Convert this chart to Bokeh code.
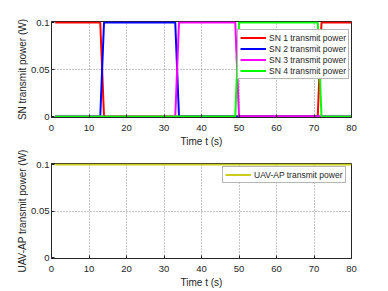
from bokeh.plotting import figure
from bokeh.layouts import column
from bokeh.models import Legend, LegendItem, FixedTicker, Range1d
from bokeh.embed import file_html
from bokeh.resources import INLINE

# ---- data (step schedules) ----
sn1_t = [1, 13, 14, 71, 72, 80]
sn1_p = [0.1, 0.1, 0.0, 0.0, 0.1, 0.1]
sn2_t = [1, 13, 14, 33, 34, 80]
sn2_p = [0.0, 0.0, 0.1, 0.1, 0.0, 0.0]
sn3_t = [1, 33, 34, 49, 50, 80]
sn3_p = [0.0, 0.0, 0.1, 0.1, 0.0, 0.0]
sn4_t = [1, 49, 50, 71, 72, 80]
sn4_p = [0.0, 0.0, 0.1, 0.1, 0.0, 0.0]
uav_t = [1, 80]
uav_p = [0.1, 0.1]

series_names = ["SN 1 transmit power", "SN 2 transmit power",
                "SN 3 transmit power", "SN 4 transmit power"]
series_colors = ["#ff0000", "#0000ff", "#ff00ff", "#00ff00"]
uav_name = "UAV-AP transmit power"
uav_color = "#cccc1a"

x_ticks = [0, 10, 20, 30, 40, 50, 60, 70, 80]
y_ticks = [0, 0.05, 0.1]
y_tick_labels = {0: "0", 0.05: "0.05", 0.1: "0.1"}

FONT = "Liberation Sans"
AX = "#262626"


def make_fig(fh, top, bottom, ylabel):
    pad = 0.1 / (fh - 2)  # one pixel so that lines on the limits are not clipped
    p = figure(frame_width=300, frame_height=fh, output_backend="svg", toolbar_location=None,
               x_range=Range1d(0, 80), y_range=Range1d(-pad, 0.1 + pad),
               min_border_left=51, min_border_right=37, min_border_top=top,
               min_border_bottom=bottom)
    p.xaxis.ticker = FixedTicker(ticks=x_ticks)
    p.yaxis.ticker = FixedTicker(ticks=y_ticks)
    p.yaxis.major_label_overrides = y_tick_labels
    for ax in (p.xaxis[0], p.yaxis[0]):
        ax.major_tick_in = 3
        ax.major_tick_out = 0
        ax.minor_tick_in = 0
        ax.minor_tick_out = 0
        ax.axis_line_color = AX
        ax.major_tick_line_color = AX
        ax.major_label_text_font = FONT
        ax.major_label_text_font_size = "9.5px"
        ax.major_label_text_color = AX
        ax.axis_label_text_font = FONT
        ax.axis_label_text_font_size = "10px"
        ax.axis_label_text_font_style = "normal"
        ax.axis_label_text_color = AX
    p.xaxis.major_label_standoff = 7
    p.xaxis.axis_label_standoff = 2
    p.yaxis.major_label_standoff = 2
    p.yaxis.axis_label_standoff = 0
    p.xaxis.axis_label = "Time t (s)"
    p.yaxis.axis_label = ylabel
    p.xgrid.ticker = FixedTicker(ticks=x_ticks[1:-1])
    p.ygrid.ticker = FixedTicker(ticks=[0.05])
    for g in (p.xgrid[0], p.ygrid[0]):
        g.grid_line_color = "#8a8a8a"
        g.grid_line_dash = "1 2"
        g.grid_line_width = 1
    p.outline_line_color = AX
    p.outline_line_width = 1
    p.background_fill_color = "white"
    p.border_fill_color = "white"
    return p


p1 = make_fig(96, 21, 28, "SN transmit power (W)")
items = []
for t, v, nm, c in zip([sn1_t, sn2_t, sn3_t, sn4_t], [sn1_p, sn2_p, sn3_p, sn4_p],
                       series_names, series_colors):
    r = p1.line(t, v, line_color=c, line_width=2)
    items.append(LegendItem(label=nm, renderers=[r]))
leg1 = Legend(items=items, location=(186, 38), label_text_font=FONT,
              label_text_font_size="8.5px", label_text_color=AX,
              label_height=11, glyph_height=11, glyph_width=26, label_standoff=3,
              spacing=0, padding=2, margin=0, border_line_color="#6e6e6e",
              background_fill_alpha=1)
p1.add_layout(leg1, "center")

p2 = make_fig(95, 14, 37, "UAV-AP transmit power (W)")
r2 = p2.line(uav_t, uav_p, line_color=uav_color, line_width=2)
leg2 = Legend(items=[LegendItem(label=uav_name, renderers=[r2])], location=(171, 75),
              label_text_font=FONT, label_text_font_size="8.5px", label_text_color=AX,
              label_height=11, glyph_height=11, glyph_width=26, label_standoff=3,
              spacing=0, padding=2, margin=0, border_line_color="#6e6e6e",
              background_fill_alpha=1)
p2.add_layout(leg2, "center")

layout = column(p1, p2, spacing=0)
open("out.html", "w").write(file_html(layout, INLINE))
